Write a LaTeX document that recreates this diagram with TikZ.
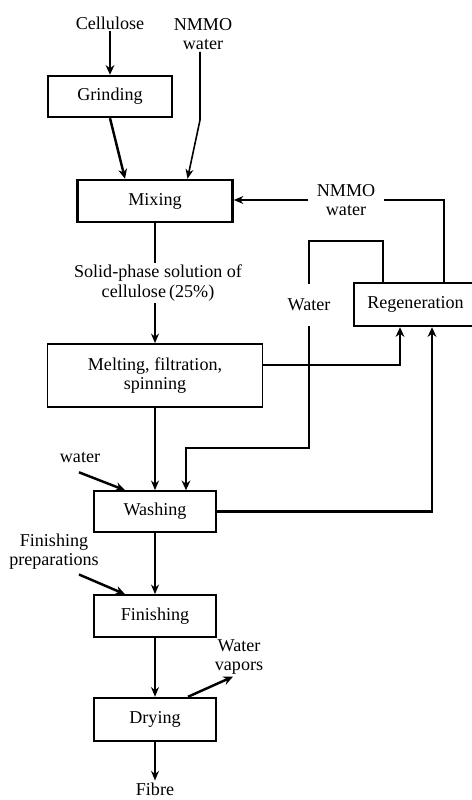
\documentclass[tikz,border=0pt]{standalone}
\usepackage{fontspec}
\setmainfont{Liberation Serif}
\usetikzlibrary{arrows.meta}
\tikzset{
    box/.style={draw, line width=0.9pt, inner sep=0pt, align=center},
    boldbox/.style={box, line width=1.4pt},
    lbl/.style={inner sep=1pt, align=center},
    flow/.style={line width=0.9pt, -{Stealth[length=5.5pt,width=4.5pt]}},
    boldflow/.style={line width=1.4pt, -{Stealth[length=5.5pt,width=5pt]}},
}
\begin{document}
\begin{tikzpicture}[x=0.02cm, y=-0.02cm, font=\fontsize{10.3}{11}\selectfont]
            \useasboundingbox (0,0) rectangle (471,800);
            % process boxes
            \node[boldbox, minimum width=2.48cm, minimum height=0.82cm] (grinding) at (110,96.5) {Grinding};
            \node[boldbox, minimum width=3.1cm, minimum height=0.84cm] (mixing) at (155,201) {Mixing};
            \node[box, minimum width=4.3cm, minimum height=1.26cm] (melting) at (155,375.5) {Melting, filtration,\\spinning};
            \node[boldbox, minimum width=2.46cm, minimum height=0.86cm] (regen) at (415.5,304.5) {Regeneration};
            \node[box, minimum width=2.44cm, minimum height=0.82cm] (washing) at (155,511.5) {Washing};
            \node[box, minimum width=2.44cm, minimum height=0.84cm] (finishing) at (155,616) {Finishing};
            \node[boldbox, minimum width=2.44cm, minimum height=0.86cm] (drying) at (155,719.5) {Drying};
            % labels
            \node[lbl] (cellulose) at (110,23) {Cellulose};
            \node[lbl] (nmmo) at (203,34) {NMMO\\water};
            \node[lbl] (solution) at (158,283) {Solid-phase solution of\\cellulose\,(25\%)};
            \node[lbl, minimum width=1.5cm] (nmmoback) at (346,200) {NMMO\\water};
            \node[lbl, inner sep=0pt, minimum height=0.84cm] (water) at (309,305) {Water};
            \node[lbl] (waterin) at (80,457) {water};
            \node[lbl] (finprep) at (54,551.5) {Finishing\\preparations};
            \node[lbl] (vapors) at (239,657) {Water\\vapors};
            \node[lbl] (fibre) at (155,789) {Fibre};
            \coordinate (nbend) at (200,120);
            \coordinate (wbend) at (186,448);
            % main line
            \draw[boldflow] (cellulose) -- (grinding);
            \draw[boldflow] (grinding.south) -- ([xshift=-0.6cm]mixing.north);
            \draw[flow] (nmmo.south -| nbend) -- (nbend) -- ([xshift=0.65cm]mixing.north);
            \draw[line width=0.9pt] (mixing.south) -- (mixing.south |- solution.north);
            \draw[flow] (melting.north |- solution.south) -- (melting.north);
            \draw[flow] (melting.south) -- (washing.north);
            \draw[flow] (washing.south) -- (finishing.north);
            \draw[flow] (finishing.south) -- (drying.north);
            \draw[flow] (drying.south) -- (fibre.north);
            % side streams
            \draw[boldflow] ([xshift=-0.02cm, yshift=-0.16cm]waterin.south) -- ([xshift=-0.6cm]washing.north);
            \draw[boldflow] ([xshift=0.5cm, yshift=-0.06cm]finprep.south) -- ([xshift=-0.6cm]finishing.north);
            \draw[boldflow] ([xshift=0.66cm]drying.north) -- ([xshift=-0.12cm]vapors.south);
            % recycling
            \draw[boldflow] ([yshift=0.21cm]melting.east) -| ([xshift=-0.31cm]regen.south);
            \draw[boldflow] (washing.east) -| ([xshift=0.33cm]regen.south);
            \draw[line width=0.9pt] ([xshift=0.57cm]regen.north) |- (nmmoback.east);
            \draw[flow] (nmmoback.west) -- (mixing.east |- nmmoback.west);
            \draw[line width=1.4pt] ([xshift=-0.65cm]regen.north) -- ++(0,-41) -| (water.north);
            \draw[boldflow] (water.south) |- (wbend) -- (wbend |- washing.north);
\end{tikzpicture}
\end{document}
